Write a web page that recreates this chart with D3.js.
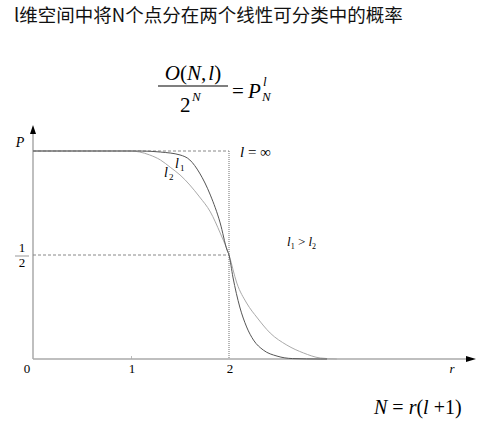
<!DOCTYPE html>
<html><head><meta charset="utf-8">
<script src="https://cdn.jsdelivr.net/npm/d3@7"></script>
<style>body{margin:0;background:#fff}svg{display:block}</style>
</head><body>
<script>
const titleText = "l维空间中将N个点分在两个线性可分类中的概率";
const xTicks = [0, 1, 2];
const xTickLabels = ["0", "1", "2"];
const l1R = [0, 0.89, 1.09, 1.30, 1.50, 1.60, 1.70, 1.81, 1.91, 1.98, 2.0, 2.04, 2.11, 2.18, 2.25, 2.35, 2.49, 2.65, 2.93, 3.0];
const l1P = [1, 1, 1, 0.995, 0.981, 0.957, 0.894, 0.788, 0.654, 0.524, 0.5, 0.394, 0.25, 0.154, 0.091, 0.043, 0.014, 0.002, 0, 0];
const l2R = [0, 0.99, 1.09, 1.19, 1.30, 1.40, 1.50, 1.70, 1.81, 1.91, 2.0, 2.08, 2.18, 2.29, 2.42, 2.59, 2.76, 2.93, 3.1];
const l2P = [1, 1, 0.995, 0.981, 0.957, 0.922, 0.885, 0.779, 0.707, 0.606, 0.5, 0.365, 0.269, 0.197, 0.125, 0.067, 0.029, 0.005, 0];
const stepR = [0, 2, 2];
const stepP = [1, 1, 0];
const halfR = [0, 2];
const halfP = [0.5, 0.5];

const W = 481, H = 421;
const svg = d3.select("body").append("svg").attr("width", W).attr("height", H);
const x = d3.scaleLinear().domain([0, 2]).range([33, 229]);
const y = d3.scaleLinear().domain([0, 1]).range([359, 151]);
const serif = "'Liberation Serif','DejaVu Serif',serif";

svg.append("text").attr("x", 14).attr("y", 22).attr("font-family", "'Noto Sans CJK SC',sans-serif")
  .attr("font-size", 18.5).attr("fill", "#111").text(titleText);

// formula
const f = svg.append("g").attr("font-family", serif).attr("fill", "#000");
f.append("text").attr("x", 193).attr("y", 80).attr("text-anchor", "middle").attr("font-size", 21)
  .html('<tspan font-style="italic">O</tspan>(<tspan font-style="italic">N</tspan>,<tspan font-style="italic" dx="2">l</tspan>)');
f.append("line").attr("x1", 158).attr("x2", 228).attr("y1", 86).attr("y2", 86).attr("stroke", "#000").attr("stroke-width", 1.2);
f.append("text").attr("x", 180).attr("y", 112).attr("font-size", 21).text("2");
f.append("text").attr("x", 192).attr("y", 101).attr("font-size", 13).attr("font-style", "italic").text("N");
f.append("text").attr("x", 232).attr("y", 98).attr("font-size", 21).text("=");
f.append("text").attr("x", 248).attr("y", 98).attr("font-size", 21).attr("font-style", "italic").text("P");
f.append("text").attr("x", 263).attr("y", 86).attr("font-size", 13).attr("font-style", "italic").text("l");
f.append("text").attr("x", 262).attr("y", 101).attr("font-size", 13).attr("font-style", "italic").text("N");

// axes
const axisG = svg.append("g");
const xAxis = d3.axisBottom(x).tickValues([1]).tickSize(-3).tickFormat("");
axisG.append("g").attr("transform", "translate(0,359)").call(xAxis)
  .call(g => g.select(".domain").remove())
  .call(g => g.selectAll("line").attr("stroke", "#bbb"));
axisG.append("line").attr("x1", x(0)).attr("x2", 468).attr("y1", y(0)).attr("y2", y(0)).attr("stroke", "#aaa").attr("stroke-width", 1.5);
axisG.append("line").attr("x1", x(0)).attr("x2", x(0)).attr("y1", y(0)).attr("y2", 134).attr("stroke", "#aaa").attr("stroke-width", 1.5);
axisG.append("path").attr("d", `M${x(0)-3},134 L${x(0)+3},134 L${x(0)},125 Z`).attr("fill", "#000");
axisG.append("path").attr("d", `M466,356 L466,362 L476,359 Z`).attr("fill", "#000");

const tl = svg.append("g").attr("font-family", serif).attr("font-size", 13).attr("fill", "#000");
xTicks.forEach((t, i) => {
  tl.append("text").attr("x", t === 0 ? x(t) - 6 : x(t) + 1).attr("y", 373).attr("text-anchor", "middle").text(xTickLabels[i]);
});
tl.append("text").attr("x", 452).attr("y", 373).attr("font-style", "italic").attr("text-anchor", "middle").text("r");
tl.append("text").attr("x", 20).attr("y", 147).attr("font-style", "italic").attr("text-anchor", "middle").attr("font-size", 14).text("P");
tl.append("text").attr("x", 22).attr("y", 252).attr("text-anchor", "middle").text("1");
tl.append("line").attr("x1", 15).attr("x2", 29).attr("y1", 256).attr("y2", 256).attr("stroke", "#999").attr("stroke-width", 1);
tl.append("text").attr("x", 22).attr("y", 267).attr("text-anchor", "middle").text("2");

// reference lines
const line = d3.line().x(d => x(d[0])).y(d => y(d[1]));
svg.append("path").datum(halfR.map((r, i) => [r, halfP[i]])).attr("d", line)
  .attr("fill", "none").attr("stroke", "#888").attr("stroke-width", 1).attr("stroke-dasharray", "3,2");
svg.append("path").datum(stepR.map((r, i) => [r, stepP[i]]).slice(0, 2)).attr("d", line)
  .attr("fill", "none").attr("stroke", "#888").attr("stroke-width", 1).attr("stroke-dasharray", "3,2");
svg.append("path").datum(stepR.map((r, i) => [r, stepP[i]]).slice(1)).attr("d", line)
  .attr("fill", "none").attr("stroke", "#888").attr("stroke-width", 1.2).attr("stroke-dasharray", "1,1");

// curves
const curve = d3.line().x(d => x(d[0])).y(d => y(d[1])).curve(d3.curveMonotoneX);
svg.append("path").datum(l2R.map((r, i) => [r, l2P[i]])).attr("d", curve)
  .attr("fill", "none").attr("stroke", "#aaa").attr("stroke-width", 1);
svg.append("path").datum(l1R.map((r, i) => [r, l1P[i]])).attr("d", curve)
  .attr("fill", "none").attr("stroke", "#555").attr("stroke-width", 1);

// labels
const lab = svg.append("g").attr("font-family", serif).attr("fill", "#000");
lab.append("text").attr("x", 175).attr("y", 168).attr("font-size", 14).attr("font-style", "italic").text("l");
lab.append("text").attr("x", 180).attr("y", 171).attr("font-size", 9).text("1");
lab.append("text").attr("x", 164).attr("y", 177).attr("font-size", 14).attr("font-style", "italic").text("l");
lab.append("text").attr("x", 169).attr("y", 180).attr("font-size", 9).text("2");
lab.append("text").attr("x", 240).attr("y", 157).attr("font-size", 15).html('<tspan font-style="italic">l</tspan> = ∞');
lab.append("text").attr("x", 287).attr("y", 246).attr("font-size", 13).html('<tspan font-style="italic">l</tspan><tspan font-size="8" dy="3">1</tspan><tspan dy="-3"> &gt; </tspan><tspan font-style="italic">l</tspan><tspan font-size="8" dy="3">2</tspan>');
lab.append("text").attr("x", 374).attr("y", 414).attr("font-size", 20)
  .html('<tspan font-style="italic">N</tspan> = <tspan font-style="italic">r</tspan>(<tspan font-style="italic">l</tspan> +1)');
</script>
</body></html>
